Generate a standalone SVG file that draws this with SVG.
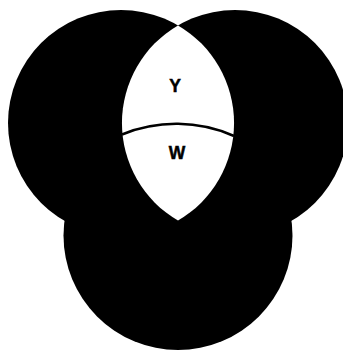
<svg xmlns="http://www.w3.org/2000/svg" width="343" height="351" viewBox="0 0 343 351">
<style>
.set{fill:#000}
.lens{fill:#fff}
.lbl{font-family:"Liberation Sans","Arial",sans-serif;font-weight:bold;font-size:17.5px;fill:#000;stroke:#000;stroke-width:0.5;text-anchor:middle}
.div{fill:none;stroke:#000;stroke-width:2.5}
</style>
<rect width="343" height="351" fill="#fff"/>
<g id="circle-left"><circle class="set" cx="121" cy="123" r="113"/></g>
<g id="circle-right"><circle class="set" cx="235" cy="123" r="113"/></g>
<g id="circle-bottom"><circle class="set" cx="178" cy="235.5" r="114.5"/></g>
<g id="region-lens"><path class="lens" d="M178 25.4 A113 113 0 0 1 178 220.6 A113 113 0 0 1 178 25.4 Z"/></g>
<g id="connectors"><path class="div" d="M122 134.5 A143 143 0 0 1 234 136"/></g>
<g id="region-Y"><text class="lbl" x="175" y="92">Y</text></g>
<g id="region-W"><text class="lbl" x="177" y="158.5">W</text></g>
</svg>
